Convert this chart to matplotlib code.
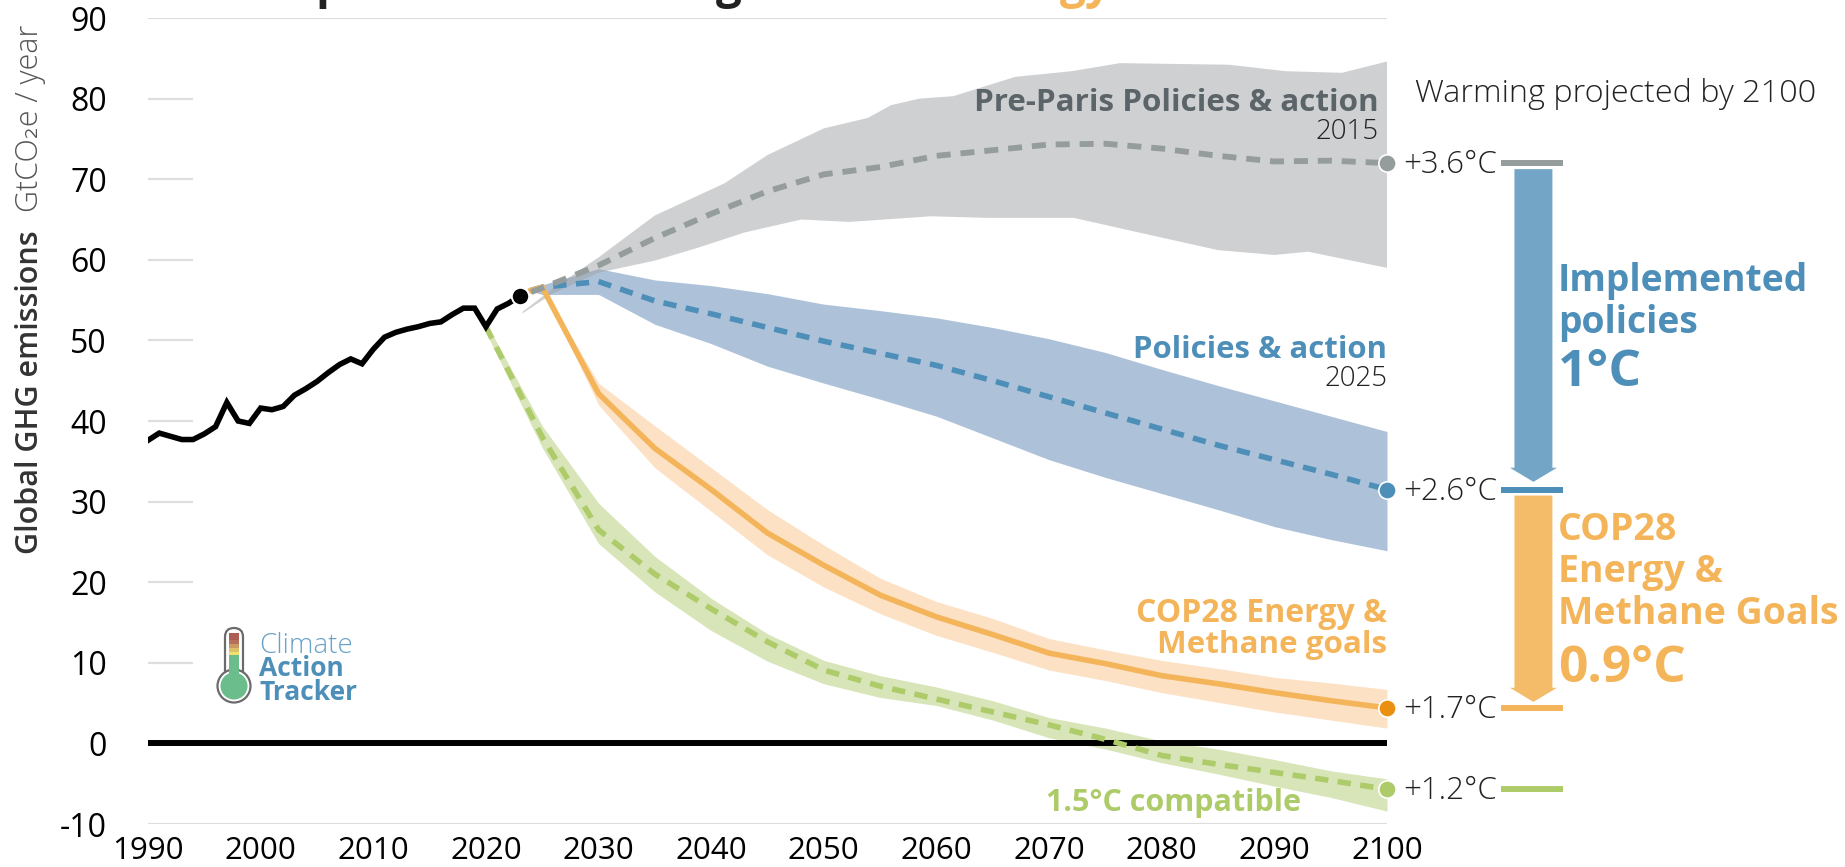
import numpy as np
import matplotlib
matplotlib.use("Agg")
import matplotlib.pyplot as plt
from matplotlib.patches import Circle, FancyBboxPatch, Rectangle
from matplotlib.transforms import Affine2D

plt.rcParams['font.family'] = ['Open Sans', 'DejaVu Sans']

# history
hist_years = list(range(1990, 2024))
hist_vals = [37.6, 38.5, 38.1, 37.7, 37.7, 38.4, 39.3, 42.3, 40.0, 39.7, 41.6, 41.4, 41.8, 43.2, 44.0, 44.9, 46.0,
             47.0, 47.7, 47.1, 48.9, 50.4, 51.0, 51.4, 51.7, 52.1, 52.3, 53.2, 54.0, 54.0, 51.7, 53.9, 54.6, 55.5]

# pre-paris scenario
pp_years = [2024, 2025, 2030, 2035, 2040, 2045, 2050, 2055, 2060, 2065, 2070, 2075, 2080, 2085, 2090, 2095, 2100]
pp_mid = [56.0, 56.5, 59.3, 62.7, 65.7, 68.5, 70.6, 71.5, 72.9, 73.6, 74.3, 74.4, 73.8, 72.9, 72.2, 72.3, 72.0]
pp_up_years = [2023.3, 2026, 2030, 2035, 2041.2, 2045, 2050, 2053.9, 2056, 2058.5, 2061.5, 2067, 2072, 2076.3, 2086,
               2091, 2096, 2100]
pp_up = [53.6, 56.5, 60.3, 65.5, 69.5, 73.0, 76.3, 77.6, 79.2, 80.0, 80.3, 82.7, 83.4, 84.4, 84.2, 83.4, 83.2, 84.6]
pp_lo_years = [2023.2, 2025.9, 2030, 2035, 2038.6, 2043, 2048, 2052.3, 2059.5, 2064.6, 2072.2, 2077.3, 2085, 2090,
               2093, 2100]
pp_lo = [53.3, 55.8, 58.4, 59.9, 61.4, 63.4, 65.0, 64.7, 65.4, 65.2, 65.2, 63.6, 61.2, 60.6, 61.0, 59.0]

# policies & action
pa_years = [2024, 2025, 2030, 2035, 2040, 2045, 2050, 2055, 2060, 2065, 2070, 2075, 2080, 2085, 2090, 2095, 2100]
pa_mid = [56.2, 56.6, 57.3, 54.9, 53.3, 51.6, 49.9, 48.4, 46.9, 45.0, 43.0, 41.0, 39.0, 37.0, 35.2, 33.4, 31.5]
pa_up = [56.3, 56.9, 58.9, 57.5, 56.8, 55.8, 54.5, 53.7, 52.8, 51.6, 50.2, 48.5, 46.4, 44.4, 42.5, 40.6, 38.7]
pa_lo = [56.1, 55.7, 55.7, 52.0, 49.6, 46.8, 44.7, 42.7, 40.6, 37.9, 35.2, 33.0, 31.0, 29.0, 26.9, 25.3, 23.9]

# cop28 goals
cop_years = [2024, 2025, 2030, 2035, 2040, 2045, 2050, 2055, 2060, 2065, 2070, 2075, 2080, 2085, 2090, 2095, 2100]
cop_mid = [56.2, 56.6, 43.4, 36.6, 31.5, 26.1, 22.1, 18.4, 15.7, 13.5, 11.2, 9.9, 8.4, 7.4, 6.3, 5.3, 4.4]
cop_up = [56.2, 56.6, 44.7, 39.4, 34.2, 29.0, 24.6, 20.5, 17.6, 15.5, 13.0, 11.6, 10.3, 9.3, 8.2, 7.5, 6.7]
cop_lo = [56.2, 56.6, 42.0, 34.2, 28.8, 23.4, 19.4, 16.1, 13.4, 11.3, 9.1, 7.8, 6.3, 5.1, 3.9, 2.9, 1.9]

# 1.5 compatible
gr_years = [2020, 2025, 2030, 2035, 2040, 2045, 2050, 2055, 2060, 2065, 2070, 2075, 2080, 2085, 2090, 2095, 2100]
gr_mid = [51.7, 38.0, 26.5, 21.0, 16.7, 12.6, 9.1, 7.1, 5.5, 3.9, 2.3, 0.5, -1.5, -2.6, -3.6, -4.6, -5.7]
gr_up = [52.2, 39.4, 29.8, 23.2, 18.0, 13.6, 10.3, 8.4, 7.0, 5.3, 3.2, 1.9, 0.3, -0.7, -2.0, -3.4, -4.4]
gr_lo = [51.0, 36.7, 24.8, 18.8, 14.0, 10.2, 7.4, 5.7, 4.7, 2.9, 0.7, -0.7, -2.4, -3.8, -5.3, -6.7, -8.4]

y_ticks = [-10, 0, 10, 20, 30, 40, 50, 60, 70, 80, 90]
x_ticks = [1990, 2000, 2010, 2020, 2030, 2040, 2050, 2060, 2070, 2080, 2090, 2100]
end_labels = ['+3.6°C', '+2.6°C', '+1.7°C', '+1.2°C']

GRAY = '#949C9C'
BLUE = '#4D8FB8'
ORANGE = '#F4B55A'
GREEN = '#AECB6A'
DOT_ORANGE = '#EA8F10'
TXT = '#222222'

W, H = 1845, 867
fig = plt.figure(figsize=(W / 100, H / 100), dpi=100)
ax = fig.add_axes([148 / W, 1 - 824 / H, 1239 / W, 806 / H])
ax.set_xlim(1990, 2100)
ax.set_ylim(-10, 90)
ax.axis('off')

PX = Affine2D().scale(1, -1).translate(0, H)  # pixels from top left


def put(x, y, s, **kw):
    kw.setdefault('va', 'center')
    kw.setdefault('color', TXT)
    return fig.text(x, y, s, transform=PX, **kw)


# grid
for v in y_ticks:
    if v == 0:
        continue
    end = 2100 if v in (90, -10) else 1994
    ax.plot([1990, end], [v, v], color='#DEDEDE', lw=1.6, zorder=1, solid_capstyle='butt')

# bands
ax.fill_between(pa_years, pa_lo, pa_up, color='#5D87B5', alpha=0.5, lw=0, zorder=2)
ax.fill_between(cop_years, cop_lo, cop_up, color='#FCE1C5', lw=0, zorder=2)
ax.fill_between(gr_years, gr_lo, gr_up, color='#D8E5B8', lw=0, zorder=2)
ax.fill(pp_up_years + pp_lo_years[::-1], pp_up + pp_lo[::-1], color='#A0A2A6', alpha=0.5, lw=0, zorder=3)

ax.plot([1990, 2100], [0, 0], color='black', lw=4.3, zorder=4, solid_capstyle='butt')

# scenario lines
dash = (2.4, 1.7)
ax.plot(pa_years, pa_mid, color=BLUE, lw=4.0, dashes=dash, zorder=5)
ax.plot(cop_years, cop_mid, color=ORANGE, lw=4.0, zorder=5, solid_joinstyle='miter')
ax.plot(gr_years, gr_mid, color=GREEN, lw=4.0, dashes=dash, zorder=5)
ax.plot(pp_years, pp_mid, color=GRAY, lw=4.2, dashes=dash, zorder=6)
ax.plot(hist_years, hist_vals, color='black', lw=4.0, zorder=7, solid_joinstyle='miter')
ax.plot(hist_years[-1], hist_vals[-1], 'o', color='black', ms=12.5, mec='white', mew=1.4, zorder=8)

ends = [pp_mid[-1], pa_mid[-1], cop_mid[-1], gr_mid[-1]]
bar_cols = [GRAY, BLUE, ORANGE, GREEN]
dot_cols = [GRAY, BLUE, DOT_ORANGE, GREEN]
for v, bc, dc, lab in zip(ends, bar_cols, dot_cols, end_labels):
    ax.plot(2100, v, 'o', color=dc, ms=12.5, mec='white', mew=1.2, zorder=8, clip_on=False)
    ax.plot([2110.1, 2115.6], [v, v], color=bc, lw=4.3, solid_capstyle='butt', clip_on=False)
    ax.annotate(lab, (2100, v), xytext=(11.5, -1.5), textcoords='offset points', va='center', ha='left',
                fontsize=22.5, color=TXT, fontweight='light', annotation_clip=False)

# arrows between the end values
ax.arrow(2113, ends[0] - 0.75, 0, ends[1] - ends[0] + 1.7, width=3.37, head_width=4.17, head_length=1.75,
         length_includes_head=True, color='#73A6C6', lw=0, clip_on=False)
ax.arrow(2113, ends[1] - 0.75, 0, ends[2] - ends[1] + 1.5, width=3.37, head_width=4.17, head_length=1.75,
         length_includes_head=True, color='#F4BC69', lw=0, clip_on=False)

# axis labels
for v in y_ticks:
    ax.annotate(str(v), (1990, v), xytext=(-29.5, -3), textcoords='offset points', ha='right', va='center',
                fontsize=23, color='black', annotation_clip=False)
for v in x_ticks:
    ax.annotate(str(v), (v, -10), xytext=(0, -8.3), textcoords='offset points', ha='center', va='top',
                fontsize=22.5, color='black', annotation_clip=False)

put(30, 554, 'Global GHG emissions', rotation=90, ha='center', va='bottom',
    fontsize=22, fontweight='semibold', color='#333333')
put(30, 212, 'GtCO₂e / year', rotation=90, ha='center', va='bottom',
    fontsize=22, color='#555555', fontweight='light')

# series labels
put(1379, 103, 'Pre-Paris Policies & action', ha='right', fontsize=22.6, fontweight='bold', color='#5B6468')
put(1379, 132, '2015', ha='right', fontsize=20, fontweight='light')
put(1387, 350, 'Policies & action', ha='right', fontsize=22.4, fontweight='bold', color=BLUE)
put(1387, 379, '2025', ha='right', fontsize=20, fontweight='light')
put(1387, 614, 'COP28 Energy &', ha='right', fontsize=23, fontweight='bold', color=ORANGE)
put(1387, 645, 'Methane goals', ha='right', fontsize=22.6, fontweight='bold', color=ORANGE)
put(1301, 803, '1.5°C compatible', ha='right', fontsize=22, fontweight='bold', color=GREEN)
put(1415, 94, 'Warming projected by 2100', ha='left', fontsize=23.3, fontweight='light')

put(1558, 281, 'Implemented', ha='left', fontsize=26.8, fontweight='bold', color=BLUE)
put(1558, 323, 'policies', ha='left', fontsize=26.8, fontweight='bold', color=BLUE)
put(1558, 373, '1°C', ha='left', fontsize=37, fontweight='bold', color=BLUE)
put(1558, 530, 'COP28', ha='left', fontsize=27, fontweight='bold', color=ORANGE)
put(1558, 572, 'Energy &', ha='left', fontsize=27, fontweight='bold', color=ORANGE)
put(1558, 614, 'Methane Goals', ha='left', fontsize=27, fontweight='bold', color=ORANGE)
put(1558, 669, '0.9°C', ha='left', fontsize=37, fontweight='bold', color=ORANGE)

# title runs off the top of the picture, only the descenders are left
put(315, -2, 'p', va='baseline', fontsize=33, fontweight='bold')
put(716, -2, 'g', va='baseline', fontsize=33, fontweight='bold')
put(1060, -2, 'gy', va='baseline', fontsize=33, fontweight='bold', color=ORANGE)

# logo
logo = [
    FancyBboxPatch((225, 628), 18, 60, boxstyle='round,pad=0,rounding_size=9', fc='white', ec='#6B6B6B', lw=1.6),
    Circle((234, 686), 16.5, fc='white', ec='#6B6B6B', lw=1.6),
    Rectangle((229, 655), 10, 27, fc='#6CBD8C', lw=0),
    Circle((234, 686), 13.5, fc='#6CBD8C', lw=0),
]
for p in logo:
    p.set_transform(PX)
    fig.add_artist(p)
grad_cols = ['#AD5F55', '#AD5F55', '#B56F5A', '#C99A62', '#DDBF69', '#F0E070']
for i, c in enumerate(grad_cols):
    r = Rectangle((229, 633 + i * 3.7), 10, 3.9, fc=c, lw=0, transform=PX)
    fig.add_artist(r)

put(259, 646, 'Climate', ha='left', fontsize=20, color='#6BA3C6', fontweight='light')
put(259, 669, 'Action', ha='left', fontsize=19, fontweight='bold', color=BLUE)
put(259, 693, 'Tracker', ha='left', fontsize=19, fontweight='bold', color=BLUE)

fig.savefig('out.png', dpi=100, facecolor='white')
